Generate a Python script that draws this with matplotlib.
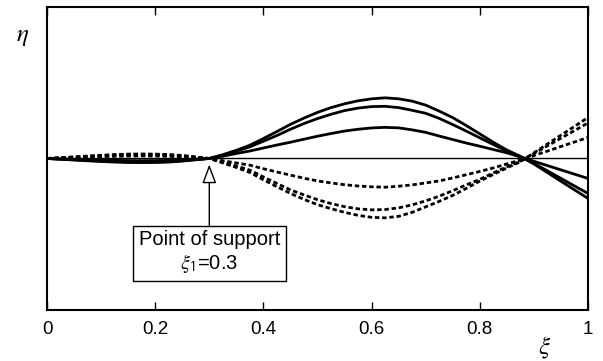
import matplotlib
matplotlib.use("Agg")
import matplotlib.pyplot as plt

# Dimensionless position along the beam
xi = [0.000, 0.025, 0.050, 0.075, 0.100, 0.125, 0.150, 0.175, 0.200, 0.225,
      0.250, 0.275, 0.300, 0.325, 0.350, 0.375, 0.400, 0.425, 0.450, 0.475,
      0.500, 0.525, 0.550, 0.575, 0.600, 0.625, 0.650, 0.675, 0.700, 0.725,
      0.750, 0.775, 0.800, 0.825, 0.850, 0.875, 0.900, 0.925, 0.950, 0.975,
      1.000]

# Deflection shapes (solid family, positive in the right span)
eta_solid_1 = [0, -0.8, -1.5, -2.3, -3.0, -3.6, -4.0, -4.1, -4.0, -3.6,
               -2.6, -1.3, 0, 3.8, 8.2, 13.3, 20.0, 27.0, 34.2, 40.5,
               46.2, 51.0, 54.8, 57.8, 59.8, 60.8, 59.8, 57.5, 53.5, 47.5,
               41.0, 33.0, 24.7, 16.3, 8.5, 2.2, -5.5, -14.1, -22.8, -31.4,
               -40.0]
eta_solid_2 = [0, -0.7, -1.3, -2.0, -2.6, -3.1, -3.5, -3.6, -3.5, -3.1,
               -2.3, -1.1, 0, 3.3, 7.3, 11.7, 17.3, 23.0, 29.3, 35.0,
               40.0, 44.3, 48.0, 50.5, 52.0, 52.3, 51.0, 48.3, 45.3, 40.2,
               34.0, 27.5, 20.7, 14.0, 7.5, 1.8, -4.8, -12.4, -19.9, -27.5,
               -35.0]
eta_solid_3 = [0, -0.4, -0.8, -1.2, -1.6, -1.9, -2.1, -2.2, -2.1, -1.9,
               -1.4, -0.7, 0, 2.3, 5.0, 7.5, 10.5, 13.5, 16.3, 19.3,
               22.3, 25.0, 27.5, 29.3, 30.6, 31.2, 30.7, 28.7, 26.2, 22.5,
               19.0, 15.5, 12.3, 9.0, 5.7, 1.6, -2.8, -7.1, -11.4, -15.7,
               -20.0]

# Deflection shapes (dashed family, negative in the right span)
eta_dashed_1 = [0, 0.4, 0.8, 1.3, 1.8, 2.2, 2.5, 2.6, 2.5, 2.2,
                1.6, 0.8, 0, -2.3, -4.5, -6.7, -10.3, -13.5, -16.7, -19.8,
                -22.5, -24.5, -26.3, -27.6, -28.4, -28.8, -27.8, -26.5, -24.5,
                -22.5, -19.5, -16.3, -13.0, -9.5, -5.5, -1.6, 2.9, 7.4, 12.0,
                16.5, 21.0]
eta_dashed_2 = [0, 0.7, 1.4, 2.1, 2.9, 3.5, 4.0, 4.1, 4.0, 3.6,
                2.7, 1.3, 0, -3.5, -7.5, -11.7, -18.5, -25.0, -31.5, -36.5,
                -41.3, -45.2, -48.3, -50.5, -51.5, -51.2, -49.5, -46.5, -42.5,
                -37.8, -32.3, -26.5, -21.0, -14.5, -8.3, -2.7, 4.9, 12.6, 20.3,
                27.9, 35.6]
eta_dashed_3 = [0, 0.8, 1.6, 2.4, 3.2, 3.9, 4.4, 4.5, 4.4, 3.9,
                3.0, 1.5, 0, -4.5, -9.0, -14.0, -21.3, -28.3, -35.0, -41.0,
                -46.3, -50.3, -54.0, -57.0, -59.0, -59.5, -58.0, -54.0, -48.5,
                -43.0, -37.0, -30.0, -22.7, -16.0, -9.5, -3.2, 5.6, 14.5, 23.3,
                32.1, 41.0]

xticks = [0, 0.2, 0.4, 0.6, 0.8, 1]
xticklabels = ["0", "0.2", "0.4", "0.6", "0.8", "1"]
support_xi = 0.3

plt.rcParams["font.family"] = ["Liberation Sans", "DejaVu Sans"]
plt.rcParams["mathtext.fontset"] = "stix"

fig = plt.figure(figsize=(6.03, 3.61), dpi=100)
ax = fig.add_axes([0.078, 0.141, 0.897, 0.840])

ax.axhline(0, color="black", lw=1.0, zorder=1)

for eta in (eta_solid_1, eta_solid_2, eta_solid_3):
    ax.plot(xi, eta, color="black", lw=2.0, solid_capstyle="butt",
            solid_joinstyle="round", zorder=3)

for eta in (eta_dashed_1, eta_dashed_2, eta_dashed_3):
    ax.plot(xi, eta, color="black", lw=2.0, linestyle=(0, (1.6, 1.0)),
            dash_capstyle="butt", zorder=3)

ax.set_xlim(0, 1)
ax.set_ylim(-152, 152)
ax.set_xticks(xticks)
ax.set_xticklabels(xticklabels, fontsize=13.5)
ax.set_yticks([])
ax.tick_params(axis="x", direction="in", length=6, width=1.0, top=True,
               pad=8)
for sp in ax.spines.values():
    sp.set_linewidth(1.5)

# Annotation marking the intermediate support
ax.annotate("Point of support\n$\\xi_{\\mathsf{1}}$=0.3",
            xy=(support_xi, -6), xytext=(support_xi, -94),
            ha="center", va="center", fontsize=14.5, linespacing=1.15,
            bbox=dict(boxstyle="square,pad=0.3", fc="white", ec="black",
                      lw=1.0),
            arrowprops=dict(arrowstyle="-|>,head_length=0.8,head_width=0.3",
                            fc="white", ec="black", lw=1.0,
                            shrinkA=0, shrinkB=0),
            zorder=5)

fig.text(0.037, 0.90, "$\\eta$", fontsize=18, ha="center", va="center")
fig.text(0.903, 0.035, "$\\xi$", fontsize=18, ha="center", va="center")

fig.savefig("out.png", dpi=100)
